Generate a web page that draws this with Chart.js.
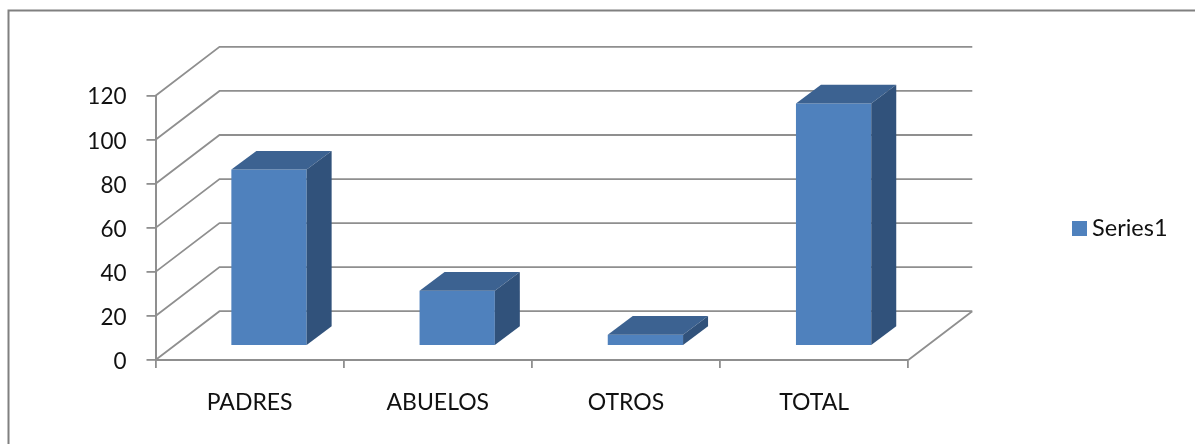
<!DOCTYPE html>
<html>
<head>
<meta charset="utf-8">
<script src="https://cdn.jsdelivr.net/npm/chart.js@4/dist/chart.umd.min.js"></script>
<style>
html,body{margin:0;padding:0;background:#fff;overflow:hidden}
canvas{display:block;filter:blur(0.7px)}
</style>
</head>
<body>
<canvas id="c" width="1195" height="444" style="width:1195px;height:444px"></canvas>
<script>
const categories = ['PADRES', 'ABUELOS', 'OTROS', 'TOTAL'];
const seriesName = 'Series1';
const seriesValues = [80, 25, 5, 110];
const axisMax = 120;
const axisStep = 20;

const FRONT = '#4F81BD', SIDE = '#31527B', TOP = '#3C6291';
const GRID = '#8F8F8F', FRAME = '#808080', TEXT = '#111111';
const FONT = {family: 'Lato', size: 23};
const NUM_FONT = {family: 'Lato', size: 22.5};
const LEGEND_FONT = {family: 'Lato', size: 23.5};
const WALL = {dx: 64, dy: -48.8};
const DEPTH = {dx: 25, dy: -18.7};
const BAR_SHIFT = {dx: 19.4, dy: -14.2};

const swatch = document.createElement('canvas');
swatch.width = 15; swatch.height = 15;
const sc = swatch.getContext('2d');
sc.fillStyle = FRONT; sc.fillRect(0, 0, 15, 15);

const scene = {
  id: 'scene',
  beforeLayout(chart) {
    const lg = chart.legend;
    if (!lg._wrapped) {
      const fit = lg.fit;
      lg.fit = function () { fit.call(this); this.width = 286.7; };
      lg._wrapped = true;
    }
  },
  afterLayout(chart) {
    chart.legend.left += 160;
    chart.legend.top += 2;
  },
  beforeDatasetsDraw(chart) {
    const {ctx, scales: {x, y}} = chart;
    const l = x.left, r = x.right, b = y.bottom;
    ctx.save();
    ctx.lineWidth = 2; ctx.strokeStyle = FRAME;
    ctx.beginPath();
    ctx.moveTo(8.5, 444); ctx.lineTo(8.5, 10.5); ctx.lineTo(1195, 10.5);
    ctx.stroke();
    ctx.lineWidth = 1.8; ctx.strokeStyle = GRID;
    ctx.beginPath();
    y.ticks.forEach(t => {
      const py = y.getPixelForValue(t.value);
      ctx.moveTo(l, py);
      ctx.lineTo(l + WALL.dx, py + WALL.dy);
      ctx.lineTo(r + WALL.dx, py + WALL.dy);
    });
    ctx.moveTo(r, b);
    ctx.lineTo(r + WALL.dx, b + WALL.dy);
    ctx.stroke();
    ctx.restore();
    ctx.save();
    ctx.translate(BAR_SHIFT.dx, BAR_SHIFT.dy);
  },
  afterDatasetsDraw(chart) {
    const {ctx} = chart;
    chart.getDatasetMeta(0).data.forEach(el => {
      const x0 = el.x - el.width / 2, x1 = el.x + el.width / 2;
      ctx.fillStyle = TOP;
      ctx.beginPath();
      ctx.moveTo(x0, el.y);
      ctx.lineTo(x0 + DEPTH.dx, el.y + DEPTH.dy);
      ctx.lineTo(x1 + DEPTH.dx, el.y + DEPTH.dy);
      ctx.lineTo(x1, el.y);
      ctx.closePath(); ctx.fill();
      ctx.fillStyle = SIDE;
      ctx.beginPath();
      ctx.moveTo(x1, el.y);
      ctx.lineTo(x1 + DEPTH.dx, el.y + DEPTH.dy);
      ctx.lineTo(x1 + DEPTH.dx, el.base + DEPTH.dy);
      ctx.lineTo(x1, el.base);
      ctx.closePath(); ctx.fill();
    });
    ctx.restore();
  }
};

new Chart(document.getElementById('c'), {
  type: 'bar',
  data: {
    labels: categories,
    datasets: [{
      label: seriesName,
      data: seriesValues,
      backgroundColor: FRONT,
      barPercentage: 0.4,
      categoryPercentage: 1,
      pointStyle: swatch
    }]
  },
  plugins: [scene],
  options: {
    responsive: false,
    animation: false,
    devicePixelRatio: 1,
    layout: {padding: {top: 95.7, left: 0, right: 0, bottom: 0}},
    plugins: {
      title: {display: false},
      tooltip: {enabled: false},
      legend: {
        display: true,
        position: 'right',
        fullSize: false,
        labels: {
          usePointStyle: true,
          boxWidth: 2,
          boxHeight: 15,
          color: TEXT,
          font: LEGEND_FONT
        }
      }
    },
    scales: {
      x: {
        afterFit(s) { s.height = 84; },
        grid: {drawOnChartArea: false, drawTicks: true, tickLength: 8, offset: true, color: GRID, lineWidth: 1.8},
        border: {display: true, color: GRID, width: 2},
        ticks: {color: TEXT, font: FONT, padding: 21, maxRotation: 0}
      },
      y: {
        min: 0,
        max: axisMax,
        afterFit(s) { s.width = 155.5; },
        grid: {drawOnChartArea: false, drawTicks: true, tickLength: 9, color: GRID, lineWidth: 1.8},
        border: {display: true, color: GRID, width: 2},
        ticks: {stepSize: axisStep, color: TEXT, font: NUM_FONT, padding: 20, labelOffset: 1.5}
      }
    }
  }
});
</script>
</body>
</html>
